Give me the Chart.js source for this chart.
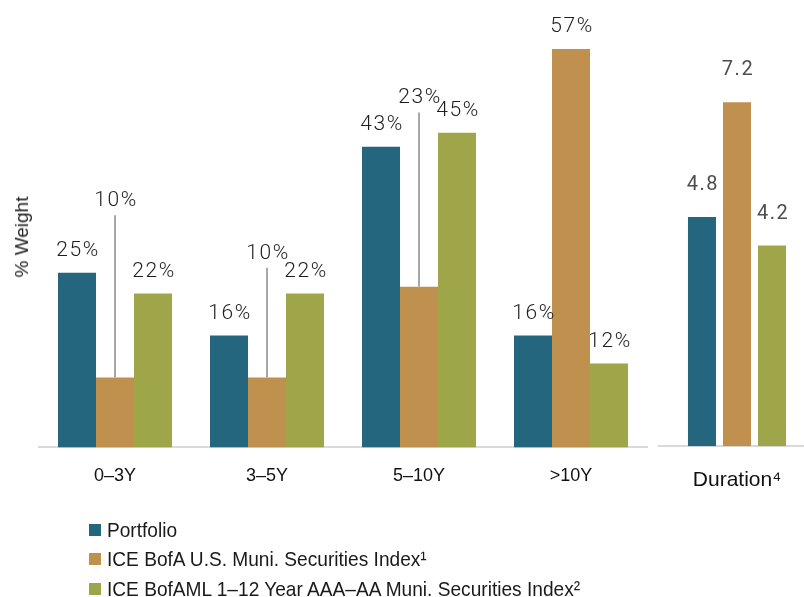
<!DOCTYPE html>
<html>
<head>
<meta charset="utf-8">
<script src="https://cdn.jsdelivr.net/npm/chart.js@4.4.1/dist/chart.umd.min.js"></script>
<style>
  html, body { margin: 0; padding: 0; background: #fff; }
  body { position: relative; width: 804px; height: 597px; overflow: hidden; }
  #mainWrap { position: absolute; left: 0; top: 0; width: 652px; height: 518px; }
  #durWrap { position: absolute; left: 658px; top: 0; width: 158px; height: 521px; }
  #yTitle {
    position: absolute; left: 22px; top: 237px;
    transform: translate(-50%, -50%) rotate(-90deg);
    font: 19px "Liberation Sans", Arial, sans-serif; color: #222; white-space: nowrap;
  }
  #legend { position: absolute; left: 89px; top: 515px; }
  .item { display: flex; align-items: center; height: 29.5px; font: 21px "Liberation Sans", Arial, sans-serif; color: #1a1a1a; white-space: nowrap; }
  .item span.box { width: 12px; height: 12px; margin-right: 6px; flex: none; }
  .item span.txt { display: inline-block; transform: scaleX(0.91); transform-origin: left center; }
</style>
</head>
<body>
<div id="mainWrap"><canvas id="mainChart" width="652" height="518"></canvas></div>
<div id="durWrap"><canvas id="durChart" width="158" height="521"></canvas></div>
<div id="yTitle">% Weight</div>
<div id="legend"></div>
<script>
// ----- Data
const categories = ['0–3Y', '3–5Y', '5–10Y', '>10Y'];
const portfolio = [25, 16, 43, 16];
const muniIndex = [10, 10, 23, 57];
const aaaIndex = [22, 22, 45, 12];

const durationCategory = ['Duration⁴'];
const durPortfolio = [4.8];
const durMuni = [7.2];
const durAaa = [4.2];

const seriesNames = [
    'Portfolio',
    'ICE BofA U.S. Muni. Securities Index¹',
    'ICE BofAML 1–12 Year AAA–AA Muni. Securities Index²'
];
const colors = ['#25667f', '#bf904e', '#9fa649'];

// muni labels lifted above neighbours (value-axis position) with a leader line
const liftedMuniLabels = { 0: 34.5, 1: 27, 2: 49.2 };

// ----- Value labels plugin
const valueLabels = {
    id: 'valueLabels',
    afterDatasetsDraw(chart, args, opts) {
        const { ctx } = chart;
        const yScale = chart.scales.y;
        ctx.save();
        ctx.font = opts.font;
        ctx.fillStyle = opts.color;
        ctx.textAlign = 'center';
        ctx.textBaseline = 'alphabetic';
        ctx.letterSpacing = opts.spacing;
        chart.data.datasets.forEach((ds, di) => {
            chart.getDatasetMeta(di).data.forEach((bar, i) => {
                const txt = opts.format(ds.data[i]);
                const lifted = opts.lifted && di === 1 ? opts.lifted[i] : undefined;
                if (lifted !== undefined) {
                    const ty = yScale.getPixelForValue(lifted);
                    ctx.fillText(txt, bar.x + 1, ty);
                    ctx.save();
                    ctx.strokeStyle = '#a8a8a8';
                    ctx.lineWidth = 2;
                    ctx.beginPath();
                    ctx.moveTo(bar.x, ty + 9);
                    ctx.lineTo(bar.x, bar.y);
                    ctx.stroke();
                    ctx.restore();
                } else {
                    ctx.fillText(txt, bar.x + 1, bar.y - opts.offset);
                }
            });
        });
        ctx.restore();
    }
};

function makeDatasets(a, b, c) {
    return [a, b, c].map((d, i) => ({
        label: seriesNames[i],
        data: d,
        backgroundColor: colors[i],
        borderWidth: 0
    }));
}

// ----- Main chart
new Chart(document.getElementById('mainChart'), {
    type: 'bar',
    data: { labels: categories, datasets: makeDatasets(portfolio, muniIndex, aaaIndex) },
    plugins: [valueLabels],
    options: {
        responsive: false,
        animation: false,
        layout: { padding: { left: 39, right: 5, top: 21, bottom: 13 } },
        datasets: { bar: { categoryPercentage: 0.75, barPercentage: 1 } },
        plugins: {
            legend: { display: false },
            tooltip: { enabled: false },
            valueLabels: {
                font: '300 21px Roboto, sans-serif', color: '#1e1e1e', spacing: '1.5px',
                offset: 17, lifted: liftedMuniLabels, format: v => v + '%'
            }
        },
        scales: {
            x: {
                grid: { display: false, drawTicks: false },
                border: { display: true, color: '#d9d9d9', width: 2 },
                ticks: {
                    color: '#111', padding: 18, maxRotation: 0, autoSkip: false,
                    font: { family: '"Liberation Sans", Arial, sans-serif', size: 18 }
                }
            },
            y: { display: false, min: 0, max: 61 }
        }
    }
});

// ----- Duration chart
new Chart(document.getElementById('durChart'), {
    type: 'bar',
    data: { labels: durationCategory, datasets: makeDatasets(durPortfolio, durMuni, durAaa) },
    plugins: [valueLabels],
    options: {
        responsive: false,
        animation: false,
        layout: { padding: { left: 0, right: 0, top: 21, bottom: 7.6 } },
        datasets: { bar: { categoryPercentage: 0.665, barPercentage: 0.8 } },
        plugins: {
            legend: { display: false },
            tooltip: { enabled: false },
            valueLabels: {
                font: '20px Roboto, sans-serif', color: '#4d4d4d', spacing: '1.5px',
                offset: 27, format: v => v.toFixed(1)
            }
        },
        scales: {
            x: {
                grid: { display: false, drawTicks: false },
                border: { display: true, color: '#d9d9d9', width: 2 },
                ticks: {
                    color: '#111', padding: 21, maxRotation: 0,
                    font: { family: '"Liberation Sans", Arial, sans-serif', size: 21 }
                }
            },
            y: { display: false, min: 0, max: 8.9 }
        }
    }
});

// ----- Legend (HTML)
const legend = document.getElementById('legend');
seriesNames.forEach((name, i) => {
    const row = document.createElement('div');
    row.className = 'item';
    row.innerHTML = `<span class="box" style="background:${colors[i]}"></span><span class="txt">${name}</span>`;
    legend.appendChild(row);
});
</script>
</body>
</html>
